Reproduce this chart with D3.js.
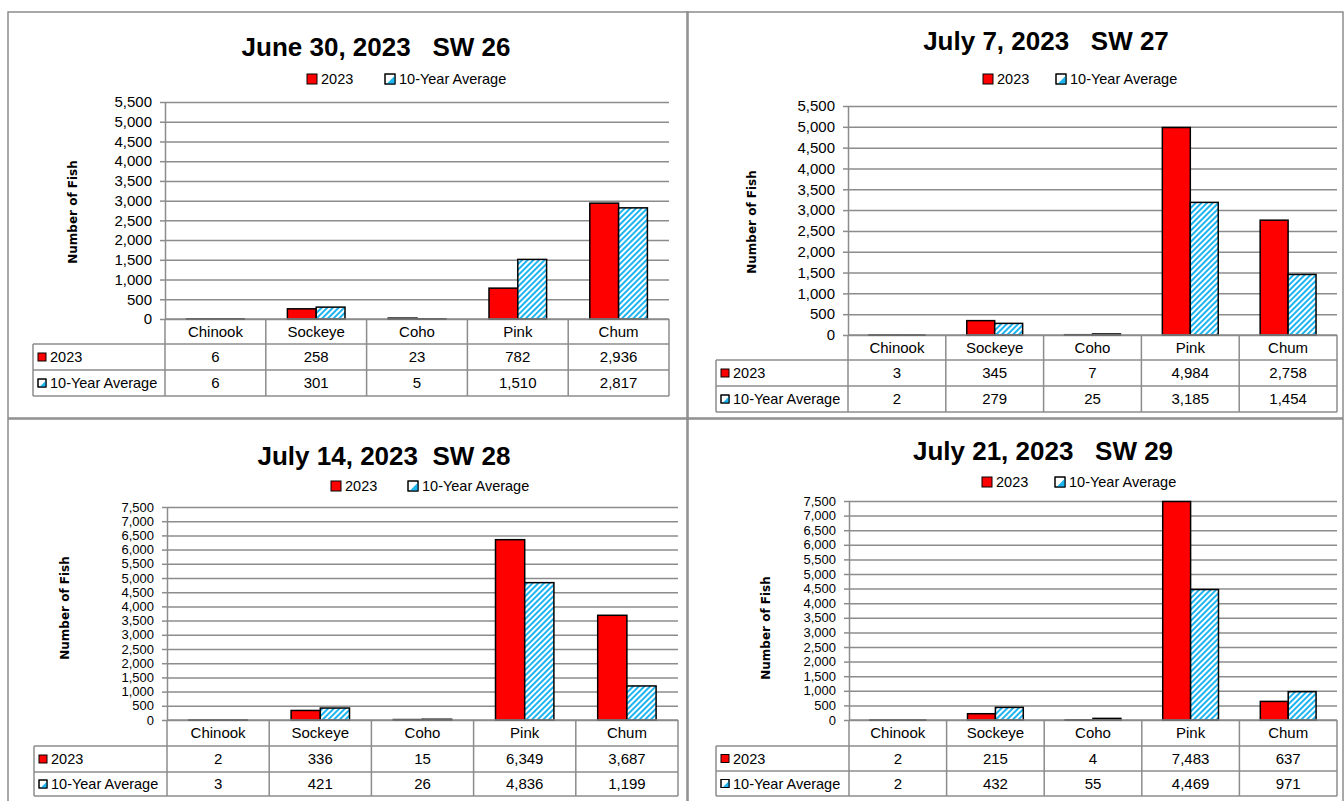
<!DOCTYPE html>
<html lang="en">
<head>
    <meta charset="UTF-8">
    <title>Weekly fish counts</title>
    <script src="https://cdn.jsdelivr.net/npm/d3@7"></script>
    <style>
        body { margin: 0; background: #fff; }
        text { font-family: "Liberation Sans", Arial, sans-serif; fill: #000; }
        .title { white-space: pre; font-weight: bold; }
        .ytitle { font-family: "DejaVu Sans", Verdana, sans-serif; font-weight: bold; }
    </style>
</head>
<body>

<script>
    // data
    var categories = ["Chinook", "Sockeye", "Coho", "Pink", "Chum"];
    var seriesNames = ["2023", "10-Year Average"];
    var titles = ["June 30, 2023   SW 26", "July 7, 2023   SW 27", "July 14, 2023  SW 28", "July 21, 2023   SW 29"];

    var sw26_2023 = [6, 258, 23, 782, 2936];
    var sw26_avg  = [6, 301, 5, 1510, 2817];
    var sw27_2023 = [3, 345, 7, 4984, 2758];
    var sw27_avg  = [2, 279, 25, 3185, 1454];
    var sw28_2023 = [2, 336, 15, 6349, 3687];
    var sw28_avg  = [3, 421, 26, 4836, 1199];
    var sw29_2023 = [2, 215, 4, 7483, 637];
    var sw29_avg  = [2, 432, 55, 4469, 971];

    var yMax = [5500, 5500, 7500, 7500];
    var yStep = 500;

    var width = 1344,
        height = 801;

    var red = "#ff0000",
        blue = "#1eb4f0",
        grid = "#8c8c8c";

    var svg = d3.select("body").append("svg")
        .attr("width", width)
        .attr("height", height);

    // diagonal hatch for the 10-year average
    var defs = svg.append("defs");
    var pat = defs.append("pattern")
        .attr("id", "hatch")
        .attr("patternUnits", "userSpaceOnUse")
        .attr("width", 4)
        .attr("height", 4)
        .attr("patternTransform", "rotate(45)");
    pat.append("rect").attr("width", 4).attr("height", 4).attr("fill", "#fff");
    pat.append("rect").attr("width", 2).attr("height", 4).attr("fill", blue);

    // panel positions (box = x, y, w, h)
    var layouts = [
        {box: [8, 12, 680, 406], l: 165, r: 669, t: 102, b: 319, rows: [319, 344, 370, 396], tableLeft: 33,
            titleX: 376, titleY: 47, legendX: 307, legendGap: 78, legendY: 79, axisX: 73, axisY: 212, tickFont: 15},
        {box: [687, 12, 656, 406], l: 848, r: 1337, t: 106, b: 335, rows: [335, 360, 386, 412], tableLeft: 716,
            titleX: 1046, titleY: 41, legendX: 983, legendGap: 73, legendY: 79, axisX: 752, axisY: 222, tickFont: 15},
        {box: [8, 419, 680, 400], l: 167, r: 678, t: 507, b: 720, rows: [720, 746, 772, 796], tableLeft: 34,
            titleX: 384, titleY: 456, legendX: 331, legendGap: 77, legendY: 486, axisX: 65, axisY: 608, tickFont: 13},
        {box: [687, 419, 656, 400], l: 849, r: 1337, t: 501, b: 720, rows: [720, 746, 771, 796], tableLeft: 716,
            titleX: 1043, titleY: 451, legendX: 982, legendGap: 73, legendY: 482, axisX: 766, axisY: 628, tickFont: 13}
    ];

    var panelData = [
        [sw26_2023, sw26_avg],
        [sw27_2023, sw27_avg],
        [sw28_2023, sw28_avg],
        [sw29_2023, sw29_avg]
    ];

    var fmt = d3.format(",");

    function keySwatch(g, x, y, size, i) {
        g.append("rect")
            .attr("x", x).attr("y", y - size / 2)
            .attr("width", size).attr("height", size)
            .attr("fill", i === 0 ? red : "#fff")
            .attr("stroke", "#000").attr("stroke-width", 1);
        if (i === 1) {
            g.append("path")
                .attr("d", "M" + (x + size) + "," + (y - size / 2 + 1.5) +
                    "L" + (x + size) + "," + (y + size / 2) +
                    "L" + (x + 1.5) + "," + (y + size / 2) + "Z")
                .attr("fill", blue);
            g.append("rect")
                .attr("x", x).attr("y", y - size / 2)
                .attr("width", size).attr("height", size)
                .attr("fill", "none")
                .attr("stroke", "#000").attr("stroke-width", 1);
        }
    }

    function drawPanel(p, k) {
        var g = svg.append("g");
        var series = panelData[k];

        // outer border
        g.append("rect")
            .attr("x", p.box[0]).attr("y", p.box[1])
            .attr("width", p.box[2]).attr("height", p.box[3])
            .attr("fill", "none")
            .attr("stroke", grid)
            .attr("stroke-width", 1.5);

        // title
        g.append("text")
            .attr("class", "title")
            .attr("x", p.titleX).attr("y", p.titleY)
            .attr("dy", "0.36em")
            .attr("text-anchor", "middle")
            .style("font-size", "26px")
            .text(titles[k]);

        // legend
        seriesNames.forEach(function (name, i) {
            var lx = p.legendX + i * p.legendGap;
            keySwatch(g, lx, p.legendY, 10, i);
            g.append("text")
                .attr("x", lx + 14).attr("y", p.legendY)
                .attr("dy", "0.36em")
                .style("font-size", "14.5px")
                .text(name);
        });

        var x = d3.scaleBand().domain(categories).range([p.l, p.r]);
        var x1 = d3.scaleBand().domain(seriesNames).range([0, x.bandwidth()])
            .paddingInner(0).paddingOuter(0.75);
        var y = d3.scaleLinear().domain([0, yMax[k]]).range([p.b, p.t]);
        var ticks = d3.range(0, yMax[k] + 1, yStep);

        // gridlines
        var gridAxis = g.append("g")
            .attr("transform", "translate(" + p.l + ",0)")
            .call(d3.axisLeft(y).tickValues(ticks).tickSize(-(p.r - p.l)).tickFormat(""));
        gridAxis.select(".domain").remove();
        gridAxis.selectAll("line").attr("stroke", grid).attr("stroke-width", 1.5);

        // y axis
        var yAxis = g.append("g")
            .attr("transform", "translate(" + p.l + ",0)")
            .call(d3.axisLeft(y).tickValues(ticks).tickFormat(fmt).tickSize(5).tickSizeOuter(0).tickPadding(8));
        yAxis.select(".domain").attr("stroke", grid).attr("stroke-width", 1.5);
        yAxis.selectAll("line").attr("stroke", grid).attr("stroke-width", 1.5);
        yAxis.selectAll("text")
            .style("font-family", "'Liberation Sans', Arial, sans-serif")
            .style("font-size", p.tickFont + "px")
            .attr("fill", "#000");

        // axis title
        g.append("text")
            .attr("class", "ytitle")
            .attr("transform", "translate(" + p.axisX + "," + p.axisY + ") rotate(-90)")
            .attr("text-anchor", "middle")
            .attr("dy", "0.36em")
            .style("font-size", "12px")
            .text("Number of Fish");

        // bars
        seriesNames.forEach(function (name, i) {
            g.append("g").selectAll("rect")
                .data(series[i])
                .enter()
                .append("rect")
                .attr("x", function (d, j) { return x(categories[j]) + x1(name); })
                .attr("y", function (d) { return y(d); })
                .attr("width", x1.bandwidth())
                .attr("height", function (d) { return Math.max(0.3, p.b - y(d)); })
                .attr("fill", i === 0 ? red : "url(#hatch)")
                .attr("stroke", "#000")
                .attr("stroke-width", 1.5);
        });

        // data table
        var rows = p.rows;
        var lines = g.append("g").attr("stroke", grid).attr("stroke-width", 1.5);
        lines.append("line").attr("x1", p.l).attr("x2", p.r).attr("y1", rows[0]).attr("y2", rows[0]);
        [1, 2, 3].forEach(function (r) {
            lines.append("line").attr("x1", p.tableLeft).attr("x2", p.r).attr("y1", rows[r]).attr("y2", rows[r]);
        });
        lines.append("line").attr("x1", p.tableLeft).attr("x2", p.tableLeft).attr("y1", rows[1]).attr("y2", rows[3]);
        d3.range(categories.length + 1).forEach(function (j) {
            var xx = p.l + j * x.bandwidth();
            lines.append("line").attr("x1", xx).attr("x2", xx).attr("y1", rows[0]).attr("y2", rows[3]);
        });

        g.append("g").selectAll("text")
            .data(categories)
            .enter()
            .append("text")
            .attr("x", function (d) { return x(d) + x.bandwidth() / 2; })
            .attr("y", (rows[0] + rows[1]) / 2)
            .attr("dy", "0.36em")
            .attr("text-anchor", "middle")
            .style("font-size", "15px")
            .text(function (d) { return d; });

        seriesNames.forEach(function (name, i) {
            var cy = (rows[i + 1] + rows[i + 2]) / 2;
            keySwatch(g, p.tableLeft + 5, cy, 8, i);
            g.append("text")
                .attr("x", p.tableLeft + 17).attr("y", cy)
                .attr("dy", "0.36em")
                .style("font-size", "14.5px")
                .text(name);
            g.append("g").selectAll("text")
                .data(series[i])
                .enter()
                .append("text")
                .attr("x", function (d, j) { return x(categories[j]) + x.bandwidth() / 2; })
                .attr("y", cy)
                .attr("dy", "0.36em")
                .attr("text-anchor", "middle")
                .style("font-size", "15px")
                .text(function (d) { return fmt(d); });
        });
    }

    layouts.forEach(drawPanel);
</script>

</body>
</html>
